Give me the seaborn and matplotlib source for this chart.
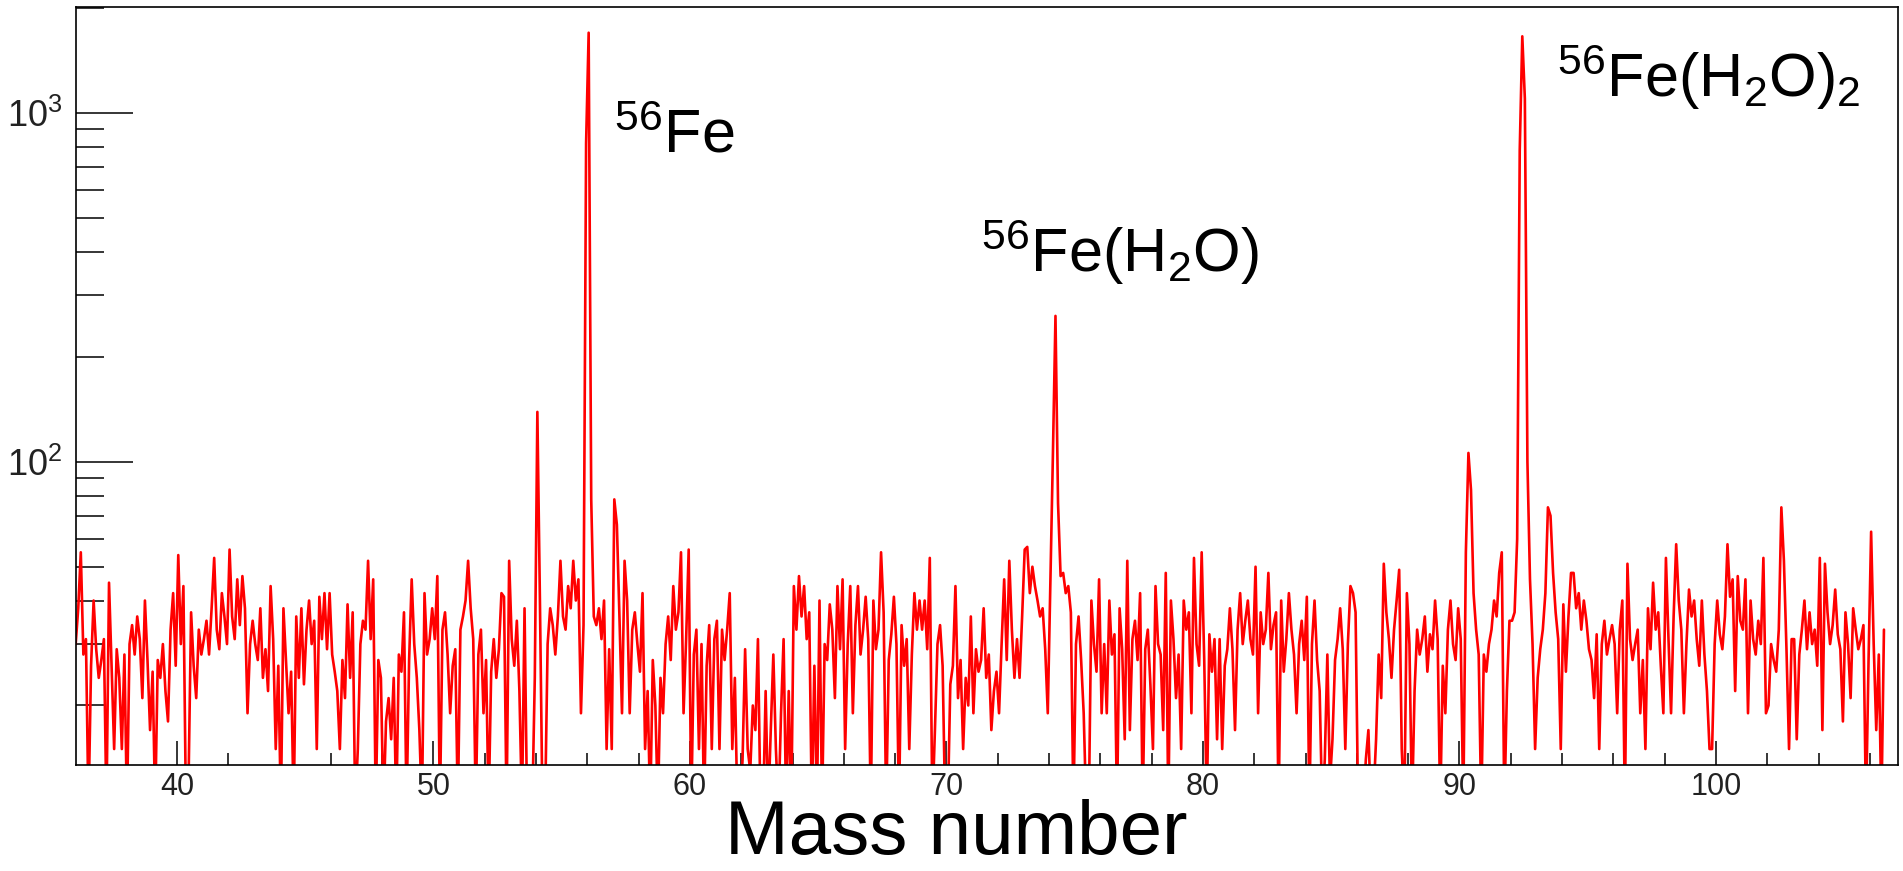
import matplotlib

matplotlib.use("Agg")
import matplotlib.pyplot as plt
import matplotlib.ticker as mticker
import numpy as np
import seaborn as sns

# spectrum counts, 0.1 mass-unit bins, one row per mass unit (first bin centre 36.05)
# values below the axis floor (13.5) are bins that dip to ~zero
counts_36_47 = [
    30, 38, 55, 28, 31, 10, 26, 40, 29, 24,
    27, 31, 10, 45, 26, 15, 29, 24, 15, 28,
    10, 30, 34, 28, 36, 31, 21, 40, 27, 17,
    25, 10, 27, 24, 30, 22, 18, 33, 42, 26,
    54, 30, 44, 10, 12, 37, 26, 21, 33, 28,
    31, 35, 28, 38, 53, 33, 29, 42, 36, 30,
    56, 36, 31, 46, 34, 47, 38, 19, 30, 35,
    30, 27, 38, 24, 29, 22, 44, 31, 15, 26,
    10, 38, 27, 19, 25, 10, 36, 24, 38, 23,
    33, 40, 30, 35, 15, 41, 31, 42, 29, 42,
    28, 25, 22, 15, 27, 21, 39, 24, 37, 10,
    15, 30, 35, 33, 52, 31, 46, 10, 27, 24,
]
counts_48_59 = [
    10, 18, 21, 16, 24, 10, 28, 25, 37, 10,
    27, 46, 30, 24, 17, 10, 42, 28, 31, 38,
    31, 47, 10, 33, 37, 28, 19, 26, 29, 10,
    33, 36, 40, 52, 38, 31, 10, 28, 33, 19,
    27, 10, 25, 31, 24, 29, 42, 41, 10, 52,
    31, 26, 35, 22, 10, 38, 10, 12, 10, 24,
    139, 40, 10, 10, 30, 38, 34, 28, 36, 52,
    36, 33, 44, 38, 52, 40, 46, 19, 34, 820,
    1700, 78, 36, 34, 38, 31, 40, 15, 29, 15,
    78, 66, 36, 19, 52, 40, 19, 33, 37, 30,
    25, 42, 15, 22, 10, 27, 20, 10, 24, 19,
    30, 36, 27, 44, 33, 37, 55, 19, 31, 56,
]
counts_60_71 = [
    10, 28, 33, 15, 30, 10, 26, 34, 15, 31,
    35, 15, 33, 27, 33, 42, 15, 24, 10, 10,
    14, 29, 15, 13, 20, 17, 31, 10, 10, 22,
    10, 17, 28, 15, 10, 19, 31, 10, 22, 10,
    44, 33, 47, 36, 44, 31, 37, 10, 26, 10,
    40, 10, 30, 27, 39, 33, 21, 44, 29, 46,
    15, 30, 44, 19, 34, 44, 28, 33, 41, 31,
    10, 40, 29, 33, 55, 37, 10, 27, 32, 41,
    30, 10, 34, 26, 31, 15, 28, 42, 33, 40,
    33, 40, 29, 53, 10, 17, 30, 34, 26, 10,
    10, 23, 26, 44, 21, 27, 15, 24, 20, 36,
    19, 29, 25, 27, 38, 24, 28, 17, 22, 25,
]
counts_72_83 = [
    19, 30, 46, 27, 52, 33, 24, 31, 24, 36,
    56, 57, 42, 50, 44, 40, 36, 38, 29, 19,
    44, 105, 262, 76, 47, 48, 42, 44, 37, 10,
    30, 36, 27, 19, 10, 10, 40, 30, 25, 46,
    19, 30, 19, 40, 28, 32, 10, 38, 29, 16,
    52, 17, 31, 35, 27, 42, 10, 29, 33, 23,
    15, 44, 30, 28, 17, 48, 10, 40, 31, 21,
    28, 15, 40, 33, 37, 19, 53, 30, 26, 55,
    27, 10, 32, 25, 31, 16, 31, 15, 26, 29,
    38, 29, 17, 33, 42, 30, 35, 40, 31, 28,
    50, 19, 37, 30, 33, 48, 29, 34, 37, 10,
    40, 25, 31, 42, 33, 28, 19, 30, 35, 27,
]
counts_84_95 = [
    41, 10, 30, 40, 27, 22, 10, 14, 28, 12,
    16, 27, 31, 38, 29, 15, 30, 44, 42, 37,
    10, 12, 10, 14, 17, 10, 11, 16, 28, 21,
    51, 37, 31, 24, 33, 40, 49, 15, 10, 42,
    30, 10, 22, 33, 28, 31, 36, 25, 32, 29,
    40, 31, 10, 26, 19, 33, 40, 30, 27, 38,
    31, 10, 55, 106, 83, 42, 33, 28, 10, 28,
    25, 30, 33, 40, 36, 48, 55, 10, 22, 35,
    35, 37, 60, 780, 1660, 1100, 100, 46, 30, 15,
    24, 29, 33, 42, 74, 70, 48, 37, 31, 15,
    39, 25, 36, 48, 48, 38, 42, 33, 40, 35,
    29, 27, 21, 32, 15, 30, 35, 28, 31, 34,
]
counts_96_106 = [
    30, 19, 33, 40, 10, 51, 31, 27, 30, 33,
    19, 27, 15, 38, 29, 45, 33, 37, 26, 19,
    53, 31, 19, 36, 58, 40, 33, 19, 30, 43,
    36, 40, 31, 26, 40, 28, 22, 15, 15, 30,
    40, 32, 29, 36, 58, 41, 46, 22, 47, 35,
    33, 46, 19, 40, 31, 28, 35, 30, 53, 19,
    20, 30, 27, 25, 33, 74, 52, 29, 15, 31,
    31, 16, 28, 33, 40, 29, 37, 30, 33, 26,
    53, 17, 51, 37, 30, 34, 43, 32, 29, 18,
    37, 30, 21, 38, 33, 29, 31, 34, 10, 27,
    63, 30, 17, 28, 10, 33,
]

FIRST_BIN = 36.05
BIN_WIDTH = 0.1

peak_labels = [r"$^{56}$Fe", r"$^{56}$Fe(H$_2$O)", r"$^{56}$Fe(H$_2$O)$_2$"]
label_pos = [(57.04, 773), (71.35, 350), (93.8, 1110)]

counts = np.concatenate(
    [counts_36_47, counts_48_59, counts_60_71, counts_72_83, counts_84_95, counts_96_106]
).astype(float)
mass = FIRST_BIN + BIN_WIDTH * np.arange(counts.size)

sns.set_style("white")
plt.rcParams["font.family"] = ["Liberation Sans", "DejaVu Sans"]
plt.rcParams["mathtext.fontset"] = "custom"
plt.rcParams["mathtext.rm"] = "Liberation Sans"
plt.rcParams["mathtext.it"] = "Liberation Sans:italic"
plt.rcParams["mathtext.default"] = "regular"

fig = plt.figure(figsize=(19.03, 8.71), dpi=100)
ax = fig.add_axes([0.0399, 0.1217, 0.9575, 0.8703])

sns.lineplot(
    x=mass,
    y=counts,
    ax=ax,
    color="#ff0000",
    linewidth=1.9,
    estimator=None,
)

ax.set_yscale("log")
ax.set_xlim(36.06, 107.1)
ax.set_ylim(13.5, 2015)

ax.xaxis.set_major_locator(mticker.MultipleLocator(10))
ax.xaxis.set_minor_locator(mticker.MultipleLocator(2))
ax.yaxis.set_major_locator(mticker.LogLocator(base=10, subs=(1.0,)))
ax.yaxis.set_minor_locator(mticker.LogLocator(base=10, subs=np.arange(2, 10)))
ax.yaxis.set_minor_formatter(mticker.NullFormatter())

ax.tick_params(which="both", bottom=True, left=True, top=False, right=False,
               direction="in", color="black", width=1.1)
ax.tick_params(axis="x", which="major", length=17, labelsize=22, pad=5,
               labelcolor="#222222")
ax.tick_params(axis="x", which="minor", length=8.6)
ax.tick_params(axis="y", which="major", length=41, labelsize=26, pad=10,
               labelcolor="#222222")
ax.tick_params(axis="y", which="minor", length=20)

for spine in ax.spines.values():
    spine.set_color("black")
    spine.set_linewidth(1.2)

ax.set_xlabel("")
ax.set_ylabel("")

for text, (x, y) in zip(peak_labels, label_pos):
    ax.text(x, y, text, fontsize=44, ha="left", va="baseline", color="black")

fig.text(0.5024, 0.019, "Mass number", fontsize=55, ha="center", va="baseline", color="black")

fig.savefig("out.png", dpi=100, facecolor="white")
